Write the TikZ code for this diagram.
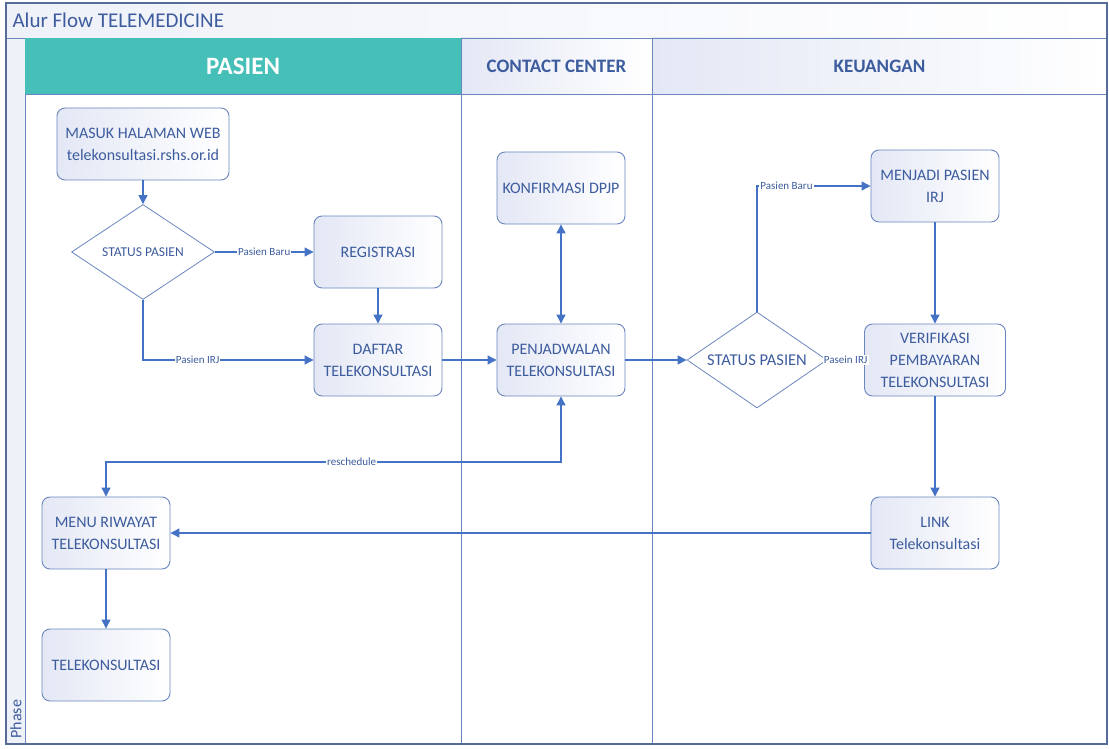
\documentclass[tikz,border=0pt]{standalone}
\usepackage{fontspec}
\setmainfont{Carlito}
\usetikzlibrary{shapes.geometric,arrows.meta}

\definecolor{garis}{HTML}{6A86BE}
\definecolor{panah}{HTML}{4472C4}
\definecolor{teks}{HTML}{3D5C9E}
\definecolor{isian}{HTML}{E4E8F5}
\definecolor{tosca}{HTML}{45BFB7}

\tikzset{
	proses/.style={rectangle, rounded corners=8pt, draw=garis, line width=0.9pt,
		left color=isian, right color=white, minimum width=128pt, minimum height=72pt,
		align=center, text=teks, font=\fontsize{16}{22}\selectfont},
	keputusan/.style={diamond, draw=garis, line width=0.8pt, fill=white, inner sep=0pt,
		aspect=1.5, text=teks},
	alur/.style={draw=panah, line width=1.1pt, -{Triangle[length=9pt,width=9pt]}},
	duaarah/.style={draw=panah, line width=1.1pt, {Triangle[length=9pt,width=9pt]}-{Triangle[length=9pt,width=9pt]}},
	ket/.style={fill=white, inner sep=1pt, text=teks, font=\fontsize{11}{12}\selectfont},
	kepala/.style={rectangle, draw=garis, line width=0.8pt, minimum height=56pt,
		font=\bfseries\fontsize{19}{22}\selectfont},
}

\begin{document}
\begin{tikzpicture}[x=1pt,y=-1pt]
	\useasboundingbox (0,0) rectangle (1109,749);
	% bingkai dan lajur
	\draw[garis, line width=0.9pt, left color=isian!60, right color=white] (6,3) rectangle (1107,38);
	\node[anchor=west, text=teks, font=\fontsize{21}{24}\selectfont] (judul) at (9,20) {Alur Flow TELEMEDICINE};
	\draw[garis, line width=0.9pt, fill=isian!60] (6,38) rectangle (25,744);
	\node[rotate=90, anchor=west, text=teks, font=\fontsize{16}{18}\selectfont] (fase) at (16,742) {Phase};
	\node[kepala, fill=tosca, draw=tosca, text=white, minimum width=436pt, font=\bfseries\fontsize{25}{28}\selectfont] (hpasien) at (243,66) {PASIEN};
	\node[kepala, left color=isian, right color=white, text=teks, minimum width=191pt] (hcc) at (556.5,66) {CONTACT CENTER};
	\node[kepala, left color=isian, right color=white, text=teks, minimum width=455pt] (huang) at (879.5,66) {KEUANGAN};
	\draw[garis, line width=0.9pt] (25,94) -- (1107,94);
	\draw[garis, line width=0.9pt] (461,38) -- (461,744);
	\draw[garis, line width=0.9pt] (652,38) -- (652,744);
	\draw[garis!80!black, line width=1.2pt] (6,3) rectangle (1107,744);

	% pasien
	\node[proses, minimum width=172pt] (masuk) at (143,144) {MASUK HALAMAN WEB\\telekonsultasi.rshs.or.id};
	\node[keputusan, minimum width=143pt, minimum height=95pt, font=\fontsize{13.5}{16}\selectfont] (status1) at (143,252) {STATUS PASIEN};
	\node[proses] (registrasi) at (378,252) {REGISTRASI};
	\node[proses] (daftar) at (378,360) {DAFTAR\\TELEKONSULTASI};
	\node[proses] (riwayat) at (106,533) {MENU RIWAYAT\\TELEKONSULTASI};
	\node[proses] (telekonsul) at (106,665) {TELEKONSULTASI};

	% contact center
	\node[proses] (konfirmasi) at (561,188) {KONFIRMASI DPJP};
	\node[proses] (jadwal) at (561,360) {PENJADWALAN\\TELEKONSULTASI};

	% keuangan
	\node[keputusan, minimum width=140pt, minimum height=96pt, font=\fontsize{16.5}{19}\selectfont] (status2) at (757,360) {STATUS PASIEN};
	\node[proses] (menjadi) at (935,186) {MENJADI PASIEN\\IRJ};
	\node[proses, minimum width=141pt] (verifikasi) at (935,360) {VERIFIKASI\\PEMBAYARAN\\TELEKONSULTASI};
	\node[proses] (link) at (935,533) {LINK\\Telekonsultasi};
	\coordinate (resch) at (561,462);

	% alur
	\draw[alur] (masuk) -- (status1);
	\draw[alur] (status1) -- node[ket]{Pasien Baru} (registrasi);
	\draw[alur] (status1.south) |- node[ket, pos=0.66]{Pasien IRJ} (daftar.west);
	\draw[alur] (registrasi) -- (daftar);
	\draw[alur] (daftar) -- (jadwal);
	\draw[duaarah] (konfirmasi) -- (jadwal);
	\draw[alur] (jadwal) -- (status2);
	\draw[alur] (status2.north) |- node[ket, pos=0.63]{Pasien Baru} (menjadi.west);
	\draw[alur] (status2) -- node[ket]{Pasein IRJ} (verifikasi);
	\draw[alur] (menjadi) -- (verifikasi);
	\draw[alur] (verifikasi) -- (link);
	\draw[alur] (link) -- (riwayat);
	\draw[duaarah] (jadwal) -- (resch) -| node[ket, pos=0.23]{reschedule} (riwayat);
	\draw[alur] (riwayat) -- (telekonsul);
\end{tikzpicture}
\end{document}
